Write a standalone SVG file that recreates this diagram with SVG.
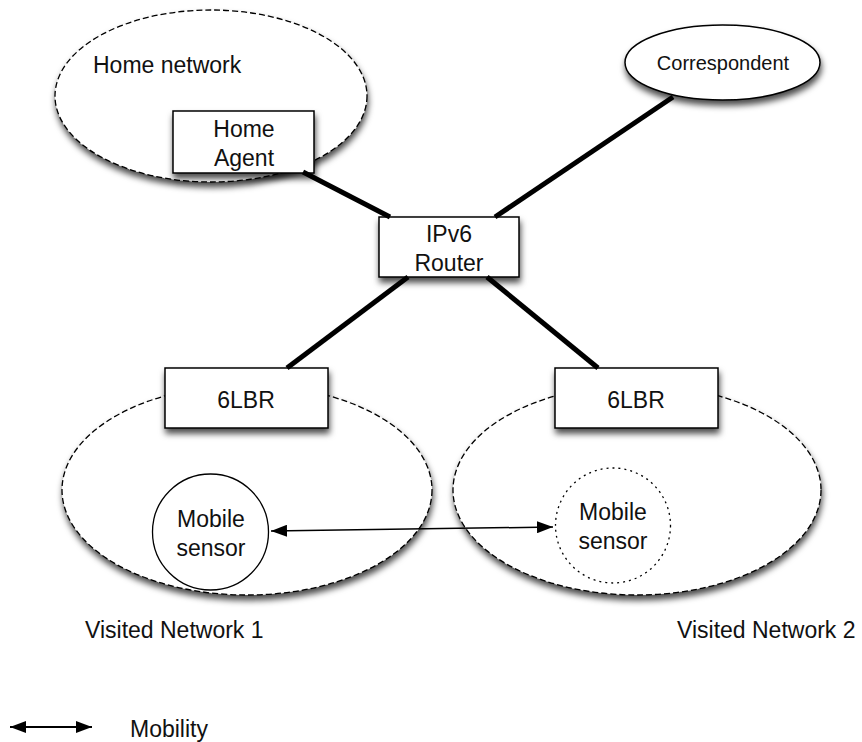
<svg xmlns="http://www.w3.org/2000/svg" width="862" height="742" viewBox="0 0 862 742">
  <defs>
    <filter id="shadow" x="-20%" y="-20%" width="140%" height="150%">
      <feDropShadow dx="1" dy="5" stdDeviation="3" flood-color="#000" flood-opacity="0.7"/>
    </filter>
    <marker id="head" viewBox="0 0 16 12" refX="16" refY="6" markerWidth="16" markerHeight="12" markerUnits="userSpaceOnUse" orient="auto-start-reverse">
      <path d="M0,0 L16,6 L0,12 Z" fill="#000"/>
    </marker>
  </defs>
  <style>
    .bg { fill: #fff; }
    .net { fill: #fff; stroke: #000; stroke-width: 1.3; stroke-dasharray: 6 3; filter: url(#shadow); }
    .box { fill: #fff; stroke: #000; stroke-width: 1.5; filter: url(#shadow); }
    .sensor { fill: #fff; stroke: #000; stroke-width: 1.3; }
    .ghost { fill: #fff; stroke: #000; stroke-width: 1.3; stroke-dasharray: 2 4; }
    .link { stroke: #000; stroke-width: 5; fill: none; }
    .move { stroke: #000; stroke-width: 1.5; fill: none; marker-start: url(#head); marker-end: url(#head); }
    text { font-family: "Liberation Sans", Arial, sans-serif; font-size: 23px; fill: #111; }
    .c { text-anchor: middle; }
  </style>

  <rect class="bg" x="0" y="0" width="862" height="742"/>

  <g id="home-network">
    <ellipse class="net" cx="211" cy="96" rx="156" ry="86"/>
    <text x="93" y="73">Home network</text>
  </g>

  <g id="visited-network-1">
    <ellipse class="net" cx="247" cy="490" rx="185" ry="105"/>
    <text x="85" y="638">Visited Network 1</text>
  </g>

  <g id="visited-network-2">
    <ellipse class="net" cx="637" cy="490" rx="184" ry="105"/>
    <text x="677" y="638">Visited Network 2</text>
  </g>

  <g id="correspondent">
    <ellipse class="box" cx="722.5" cy="62.5" rx="97.5" ry="37.5"/>
    <text class="c" x="723" y="70" style="font-size:20px">Correspondent</text>
  </g>

  <g id="home-agent">
    <rect class="box" x="173" y="111" width="141" height="62"/>
    <text class="c" x="244" y="137">Home</text>
    <text class="c" x="244" y="166">Agent</text>
  </g>

  <g id="ipv6-router">
    <rect class="box" x="379" y="217" width="140" height="60"/>
    <text class="c" x="449" y="242">IPv6</text>
    <text class="c" x="449" y="271">Router</text>
  </g>

  <g id="lbr-1">
    <rect class="box" x="165" y="368" width="163" height="60"/>
    <text class="c" x="246" y="408">6LBR</text>
  </g>

  <g id="lbr-2">
    <rect class="box" x="555" y="368" width="163" height="60"/>
    <text class="c" x="636" y="408">6LBR</text>
  </g>

  <g id="mobile-sensor-1">
    <circle class="sensor" cx="210.5" cy="532" r="58"/>
    <text class="c" x="211" y="527">Mobile</text>
    <text class="c" x="211" y="556">sensor</text>
  </g>

  <g id="mobile-sensor-2">
    <circle class="ghost" cx="613" cy="525.5" r="57.5"/>
    <text class="c" x="613" y="520">Mobile</text>
    <text class="c" x="613" y="549">sensor</text>
  </g>

  <g id="connectors">
    <line class="link" x1="303" y1="172" x2="390" y2="217"/>
    <line class="link" x1="673" y1="97" x2="495" y2="217"/>
    <line class="link" x1="408" y1="277" x2="287" y2="368"/>
    <line class="link" x1="487" y1="277" x2="598" y2="368"/>
    <line class="move" x1="271" y1="531" x2="553" y2="527"/>
  </g>

  <g id="legend">
    <line class="move" x1="10" y1="727" x2="92" y2="727" style="stroke-width:2"/>
    <text x="130" y="737">Mobility</text>
  </g>
</svg>
